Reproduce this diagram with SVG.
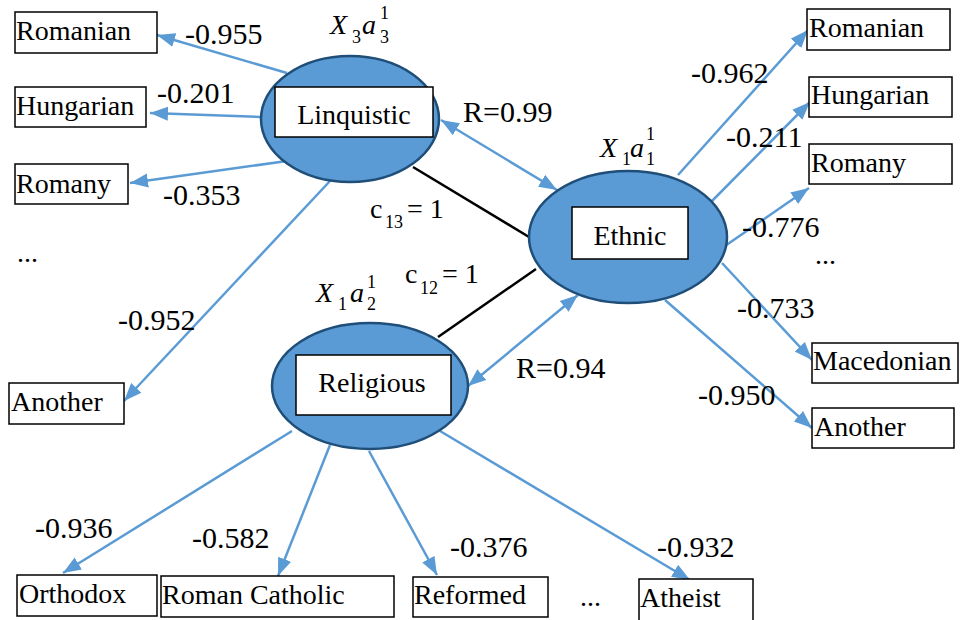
<svg xmlns="http://www.w3.org/2000/svg" width="960" height="620" viewBox="0 0 960 620" font-family="'Liberation Serif', 'Times New Roman', serif">
<style>
  text { font-family: 'Liberation Serif', 'Times New Roman', serif; fill: #000; }
  .lbl { font-size: 28px; }
  .num { font-size: 30px; }
  .box { fill: #fff; stroke: #000; stroke-width: 1.5; }
  .ell { fill: #5B9BD5; stroke: #1F4E79; stroke-width: 2.5; }
  .arr { fill: none; stroke: #5B9BD5; stroke-width: 2.5; marker-end: url(#ah); }
  .dbl { fill: none; stroke: #5B9BD5; stroke-width: 2.5; marker-end: url(#ah); marker-start: url(#ah); }
  .blk { fill: none; stroke: #000; stroke-width: 2.5; }
  .it { font-style: italic; font-size: 28px; }
  .sub { font-size: 18px; }
  .c { font-size: 28px; }
  .cs { font-size: 18px; }
</style>
<defs>
  <marker id="ah" markerUnits="userSpaceOnUse" markerWidth="20" markerHeight="16" viewBox="0 0 20 16" refX="18" refY="8" orient="auto-start-reverse">
    <path d="M0,1 L18,8 L0,15 Z" fill="#5B9BD5"/>
  </marker>
</defs>
<rect width="960" height="620" fill="#fff"/>

<g id="connectors">
  <path class="arr" d="M287,73 L157,35"/>
  <path class="arr" d="M261,117 L150,113"/>
  <path class="arr" d="M287,161 L130,183"/>
  <path class="arr" d="M330,181 L124,401"/>
  <path class="dbl" d="M441,120 L557,190"/>
  <path class="blk" d="M413,167 L529,237"/>
  <path class="arr" d="M678,175 L808,30"/>
  <path class="arr" d="M712,201 L810,102"/>
  <path class="arr" d="M725,246 L809,188"/>
  <path class="arr" d="M722,263 L812,360"/>
  <path class="arr" d="M665,300 L812,428"/>
  <path class="blk" d="M536,269 L438,337"/>
  <path class="dbl" d="M578,295 L468,386"/>
  <path class="arr" d="M292,431 L63,573"/>
  <path class="arr" d="M330,445 L278,576"/>
  <path class="arr" d="M369,451 L437,575"/>
  <path class="arr" d="M440,431 L690,580"/>
</g>

<g id="node-linquistic">
  <ellipse class="ell" cx="350" cy="119" rx="89" ry="63"/>
  <rect class="box" x="275" y="87" width="158" height="50"/>
  <text class="lbl" x="354" y="124" text-anchor="middle">Linquistic</text>
</g>
<g id="node-ethnic">
  <ellipse class="ell" cx="628" cy="237" rx="99" ry="66"/>
  <rect class="box" x="572" y="207" width="116" height="52"/>
  <text class="lbl" x="630" y="245" text-anchor="middle">Ethnic</text>
</g>
<g id="node-religious">
  <ellipse class="ell" cx="370" cy="386" rx="98" ry="63"/>
  <rect class="box" x="296" y="355" width="155" height="60"/>
  <text class="lbl" x="372" y="392" text-anchor="middle">Religious</text>
</g>

<g id="node-l-romanian"><rect class="box" x="15" y="12" width="142" height="41"/><text class="lbl" x="16" y="40">Romanian</text></g>
<g id="node-l-hungarian"><rect class="box" x="15" y="87" width="131" height="40"/><text class="lbl" x="16" y="115">Hungarian</text></g>
<g id="node-l-romany"><rect class="box" x="15" y="164" width="113" height="40"/><text class="lbl" x="16" y="193">Romany</text></g>
<g id="node-l-another"><rect class="box" x="9" y="383" width="115" height="41"/><text class="lbl" x="11" y="411">Another</text></g>

<g id="node-r-romanian"><rect class="box" x="807" y="9" width="143" height="41"/><text class="lbl" x="809" y="37">Romanian</text></g>
<g id="node-r-hungarian"><rect class="box" x="809" y="77" width="143" height="40"/><text class="lbl" x="811" y="104">Hungarian</text></g>
<g id="node-r-romany"><rect class="box" x="809" y="144" width="143" height="40"/><text class="lbl" x="811" y="172">Romany</text></g>
<g id="node-r-macedonian"><rect class="box" x="812" y="343" width="146" height="40"/><text class="lbl" x="813" y="370">Macedonian</text></g>
<g id="node-r-another"><rect class="box" x="812" y="408" width="142" height="40"/><text class="lbl" x="814" y="436">Another</text></g>

<g id="node-orthodox"><rect class="box" x="17" y="575" width="140" height="41"/><text class="lbl" x="19" y="603">Orthodox</text></g>
<g id="node-catholic"><rect class="box" x="161" y="576" width="233" height="41"/><text class="lbl" x="162" y="604">Roman Catholic</text></g>
<g id="node-reformed"><rect class="box" x="413" y="577" width="135" height="40"/><text class="lbl" x="414" y="604">Reformed</text></g>
<g id="node-atheist"><rect class="box" x="639" y="579" width="114" height="44"/><text class="lbl" x="640" y="607">Atheist</text></g>

<g id="labels">
  <text class="num" x="185" y="44">-0.955</text>
  <text class="num" x="157" y="103">-0.201</text>
  <text class="num" x="163" y="205">-0.353</text>
  <text class="num" x="118" y="330">-0.952</text>
  <text class="num" x="691" y="83">-0.962</text>
  <text class="num" x="726" y="147">-0.211</text>
  <text class="num" x="742" y="237">-0.776</text>
  <text class="num" x="737" y="318">-0.733</text>
  <text class="num" x="698" y="405">-0.950</text>
  <text class="num" x="35" y="538">-0.936</text>
  <text class="num" x="192" y="548">-0.582</text>
  <text class="num" x="450" y="557">-0.376</text>
  <text class="num" x="657" y="557">-0.932</text>
  <text class="num" x="463" y="122">R=0.99</text>
  <text class="num" x="516" y="378">R=0.94</text>
  <text class="lbl" x="17" y="262">...</text>
  <text class="lbl" x="815" y="264">...</text>
  <text class="lbl" x="580" y="606">...</text>

  <text class="c" x="370" y="218">c</text><text class="cs" x="385" y="228">13</text><text class="c" x="407" y="218">= 1</text>
  <text class="c" x="405" y="283">c</text><text class="cs" x="420" y="294">12</text><text class="c" x="442" y="283">= 1</text>

  <text class="it" x="330" y="34">X</text><text class="sub" x="352" y="43">3</text><text class="it" x="362" y="34">a</text><text class="sub" x="380" y="19">1</text><text class="sub" x="380" y="43">3</text>
  <text class="it" x="600" y="157">X</text><text class="sub" x="622" y="165">1</text><text class="it" x="630" y="157">a</text><text class="sub" x="646" y="140">1</text><text class="sub" x="646" y="165">1</text>
  <text class="it" x="316" y="302">X</text><text class="sub" x="338" y="310">1</text><text class="it" x="350" y="302">a</text><text class="sub" x="367" y="288">1</text><text class="sub" x="367" y="310">2</text>
</g>
</svg>
